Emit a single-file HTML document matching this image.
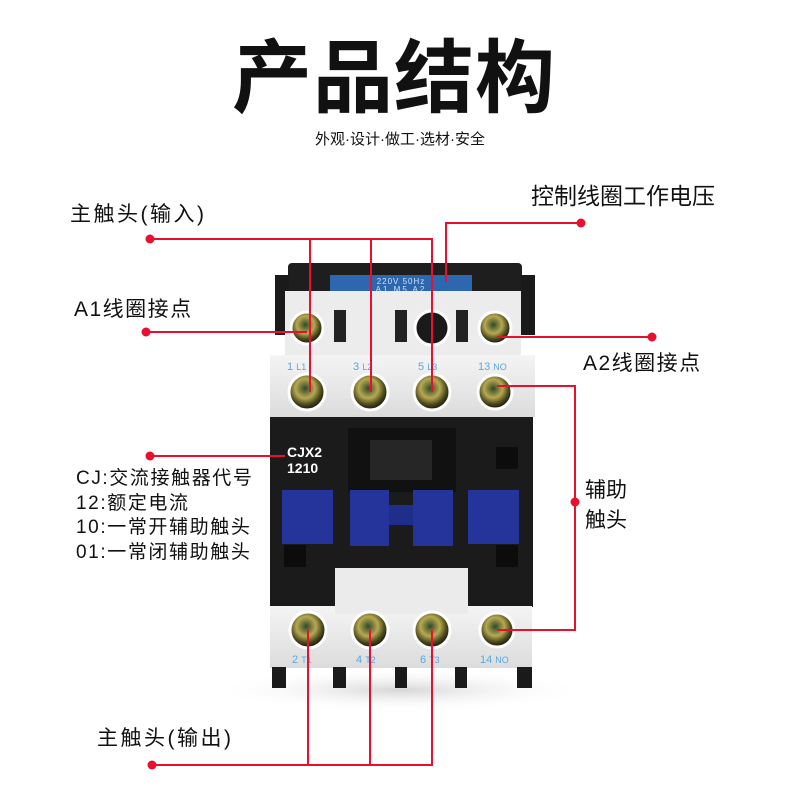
<!DOCTYPE html>
<html><head><meta charset="utf-8"><style>
html,body{margin:0;padding:0;background:#fff;width:800px;height:800px;overflow:hidden}
svg{display:block}
.t{font-family:"Liberation Sans","Noto Sans CJK SC",sans-serif;fill:#111}
</style></head><body>
<svg width="800" height="800" viewBox="0 0 800 800" xmlns="http://www.w3.org/2000/svg">
<defs>
<radialGradient id="scr" cx="45%" cy="40%" r="60%">
<stop offset="0" stop-color="#2f4a2a"/><stop offset="0.45" stop-color="#b8a850"/><stop offset="0.75" stop-color="#4a4a1e"/><stop offset="1" stop-color="#111108"/>
</radialGradient>
<radialGradient id="sh" cx="50%" cy="50%" r="50%"><stop offset="0" stop-color="#bbb" stop-opacity="0.6"/><stop offset="1" stop-color="#fff" stop-opacity="0"/></radialGradient>
<linearGradient id="wt" x1="0" y1="0" x2="0" y2="1"><stop offset="0" stop-color="#f4f4f4"/><stop offset="1" stop-color="#dcdcdc"/></linearGradient>
</defs>
<text class="t" x="394" y="106" font-size="80" font-weight="bold" text-anchor="middle" letter-spacing="1">产品结构</text>
<text class="t" x="400" y="144" font-size="15" text-anchor="middle" fill="#222">外观·设计·做工·选材·安全</text>

<ellipse cx="400" cy="690" rx="190" ry="22" fill="url(#sh)"/>

<rect x="288" y="263" width="234" height="32" rx="4" fill="#1e1e1e"/>
<rect x="275" y="275" width="14" height="60" fill="#1a1a1a"/>
<rect x="521" y="275" width="14" height="60" fill="#1a1a1a"/>
<rect x="330" y="275" width="142" height="17" fill="#2d67b0"/>
<text x="401" y="284" font-size="8" fill="#cfe0f5" text-anchor="middle" font-family="Liberation Sans,sans-serif" letter-spacing="1">220V 50Hz</text>
<text x="401" y="292" font-size="8" fill="#cfe0f5" text-anchor="middle" font-family="Liberation Sans,sans-serif" letter-spacing="2">A1  M5  A2</text>
<rect x="285" y="291" width="236" height="64" fill="#ececec"/>
<rect x="270" y="355" width="265" height="62" fill="url(#wt)"/>
<rect x="334" y="310" width="12" height="32" fill="#222"/>
<rect x="395" y="310" width="12" height="32" fill="#222"/>
<rect x="456" y="310" width="12" height="32" fill="#222"/>
<rect x="270" y="417" width="263" height="190" fill="#1b1b1b"/>
<rect x="348" y="428" width="108" height="64" fill="#111"/>
<rect x="370" y="440" width="62" height="40" fill="#262626"/>
<rect x="496" y="447" width="22" height="22" fill="#0c0c0c"/>
<rect x="284" y="545" width="22" height="22" fill="#0c0c0c"/>
<rect x="496" y="545" width="22" height="22" fill="#0c0c0c"/>
<text x="287" y="457" font-size="14" font-weight="bold" fill="#fff" font-family="Liberation Sans,sans-serif">CJX2</text>
<text x="287" y="473" font-size="14" font-weight="bold" fill="#fff" font-family="Liberation Sans,sans-serif">1210</text>
<rect x="282" y="490" width="51" height="54" fill="#24349a"/>
<rect x="350" y="490" width="39" height="56" fill="#24349a"/>
<rect x="389" y="505" width="24" height="20" fill="#1f2e8a"/>
<rect x="413" y="490" width="40" height="56" fill="#24349a"/>
<rect x="468" y="490" width="51" height="54" fill="#24349a"/>
<rect x="270" y="606" width="262" height="62" fill="url(#wt)"/>
<rect x="335" y="568" width="133" height="46" fill="#ebebeb"/>
<g fill="#1a1a1a">
<rect x="272" y="667" width="14" height="21"/><rect x="333" y="667" width="13" height="21"/><rect x="395" y="667" width="12" height="21"/><rect x="455" y="667" width="12" height="21"/><rect x="517" y="667" width="15" height="21"/>
</g>
<g stroke="#fff" stroke-width="3">
<circle cx="307" cy="328" r="16" fill="url(#scr)"/>
<circle cx="432" cy="328" r="17" fill="#1a1a1a"/>
<circle cx="495" cy="328" r="16" fill="url(#scr)"/>
<circle cx="307" cy="392" r="18" fill="url(#scr)"/>
<circle cx="370" cy="392" r="18" fill="url(#scr)"/>
<circle cx="432" cy="392" r="18" fill="url(#scr)"/>
<circle cx="495" cy="392" r="17" fill="url(#scr)"/>
<circle cx="308" cy="630" r="18" fill="url(#scr)"/>
<circle cx="370" cy="630" r="18" fill="url(#scr)"/>
<circle cx="432" cy="630" r="18" fill="url(#scr)"/>
<circle cx="497" cy="630" r="17" fill="url(#scr)"/>
</g>
<g font-family="Liberation Sans,sans-serif" fill="#5aa8e0" font-size="11">
<text x="287" y="370">1 <tspan font-size="9">L1</tspan></text>
<text x="353" y="370">3 <tspan font-size="9">L2</tspan></text>
<text x="418" y="370">5 <tspan font-size="9">L3</tspan></text>
<text x="478" y="370">13 <tspan font-size="9">NO</tspan></text>
<text x="292" y="663">2 <tspan font-size="9">T1</tspan></text>
<text x="356" y="663">4 <tspan font-size="9">T2</tspan></text>
<text x="420" y="663">6 <tspan font-size="9">T3</tspan></text>
<text x="480" y="663">14 <tspan font-size="9">NO</tspan></text>
</g>

<g stroke="#e8102e" stroke-width="2" fill="none">
<polyline points="150,239 432,239 432,392"/>
<line x1="310" y1="239" x2="310" y2="392"/>
<line x1="371" y1="239" x2="371" y2="392"/>
<polyline points="581,223 446,223 446,282"/>
<line x1="146" y1="332" x2="307" y2="332"/>
<line x1="652" y1="337" x2="497" y2="337"/>
<line x1="150" y1="456" x2="285" y2="456"/>
<polyline points="497,386 575,386 575,630 497,630"/>
<polyline points="152,765 432,765 432,630"/>
<line x1="308" y1="765" x2="308" y2="630"/>
<line x1="370" y1="765" x2="370" y2="630"/>
</g>
<g fill="#e8102e">
<circle cx="150" cy="239" r="4.5"/><circle cx="581" cy="223" r="4.5"/><circle cx="146" cy="332" r="4.5"/>
<circle cx="652" cy="337" r="4.5"/><circle cx="150" cy="456" r="4.5"/><circle cx="575" cy="502" r="4.5"/>
<circle cx="152" cy="765" r="4.5"/>
</g>

<text class="t" x="70" y="221" font-size="21" letter-spacing="2.5">主触头(输入)</text>
<text class="t" x="531" y="204" font-size="23">控制线圈工作电压</text>
<text class="t" x="74" y="316" font-size="21" letter-spacing="1.5">A1线圈接点</text>
<text class="t" x="583" y="370" font-size="21" letter-spacing="1.5">A2线圈接点</text>
<text class="t" x="76" y="484" font-size="19" letter-spacing="1.6">CJ:交流接触器代号</text>
<text class="t" x="76" y="509" font-size="19" letter-spacing="1.6">12:额定电流</text>
<text class="t" x="76" y="533" font-size="19" letter-spacing="1.6">10:一常开辅助触头</text>
<text class="t" x="76" y="558" font-size="19" letter-spacing="1.6">01:一常闭辅助触头</text>
<text class="t" x="585" y="497" font-size="21">辅助</text>
<text class="t" x="585" y="527" font-size="21">触头</text>
<text class="t" x="97" y="745" font-size="21" letter-spacing="2.5">主触头(输出)</text>
</svg>
</body></html>
